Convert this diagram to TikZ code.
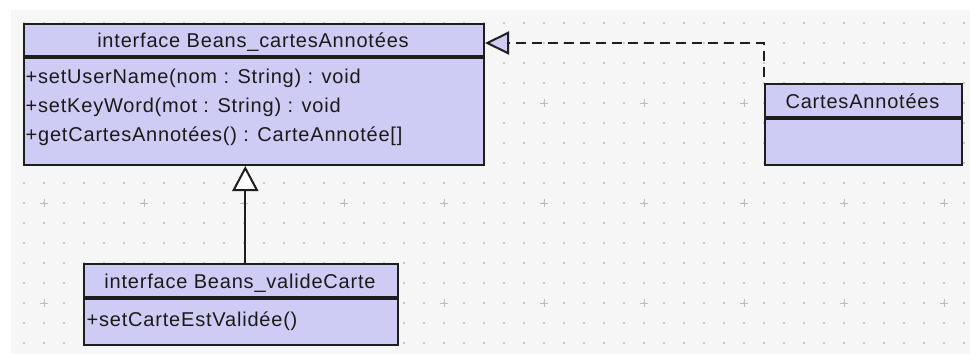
\documentclass[tikz,border=0pt]{standalone}
\usepackage{fontspec}
\setmainfont{Liberation Sans}[LetterSpace=4]
\usetikzlibrary{arrows.meta}

\definecolor{canvas}{HTML}{F6F6F6}
\definecolor{classfill}{RGB}{206,204,244}
\definecolor{edge}{HTML}{1E1E1E}
\definecolor{griddot}{HTML}{CACACA}
\definecolor{gridcross}{HTML}{BDBDBD}
\definecolor{ink}{HTML}{1A1A1A}

\newcommand{\umlfont}{\fontsize{20pt}{24pt}\selectfont}

\tikzset{
  classpart/.style={draw=edge, fill=classfill, line width=2pt, inner sep=0pt,
    anchor=north west},
  umltext/.style={font=\umlfont, text=ink, inner sep=0pt},
  generalization/.style={draw=edge, line width=2pt,
    -{Triangle[length=25pt, width=26pt, fill=white]}},
  realization/.style={draw=edge, line width=2pt,
    dash pattern=on 10pt off 6pt, dash phase=10pt,
    -{Triangle[length=24pt, width=23pt, fill=classfill]}},
}

\begin{document}
\begin{tikzpicture}[x=1pt, y=-1pt]
  \useasboundingbox (0,0) rectangle (970,356);

  % drawing canvas with its dotted grid
  \fill[canvas] (11,10) rectangle (970,354);
  \foreach \i in {0,...,47}
    \foreach \j in {0,...,16}
      \fill[griddot] (24+20*\i-0.6, 23+20*\j-0.6) rectangle ++(1.2,1.2);
  \foreach \i in {0,...,9}
    \foreach \j in {1,2,3}
      \draw[gridcross, line width=1pt]
        (44+100*\i-4, 3+100*\j) -- ++(8,0)
        (44+100*\i, 3+100*\j-4) -- ++(0,8);

  % interface Beans_cartesAnnotées
  \node[classpart, minimum width=460pt, minimum height=32pt] (h1) at (23,23) {};
  \node[classpart, minimum width=460pt, minimum height=107pt] (m1) at (h1.south west) {};
  \node[umltext, anchor=base] (t1) at (253,47) {interface Beans\_cartesAnnotées};
  \node[umltext, anchor=base west] (op1) at (25.5,83.5) {+setUserName(nom : String) : void};
  \node[umltext, anchor=base west] (op2) at (25.5,112.5) {+setKeyWord(mot : String) : void};
  \node[umltext, anchor=base west] (op3) at (25.5,141.5) {+getCartesAnnotées() : CarteAnnotée[]};

  % class CartesAnnotées
  \node[classpart, minimum width=197pt, minimum height=33pt] (h2) at (764,83) {};
  \node[classpart, minimum width=197pt, minimum height=46pt] (m2) at (h2.south west) {};
  \node[umltext, anchor=base] (t2) at (862.5,108) {CartesAnnotées};

  % interface Beans_valideCarte
  \node[classpart, minimum width=314pt, minimum height=33pt] (h3) at (83,263) {};
  \node[classpart, minimum width=314pt, minimum height=46pt] (m3) at (h3.south west) {};
  \node[umltext, anchor=base] (t3) at (240,288) {interface Beans\_valideCarte};
  \node[umltext, anchor=base west] (op4) at (86.5,326) {+setCarteEstValidée()};

  % Beans_valideCarte extends Beans_cartesAnnotées
  \draw[generalization] ([xshift=4.3pt]h3.north) -- ([xshift=4.3pt]h3.north |- m1.south);

  % CartesAnnotées implements Beans_cartesAnnotées
  \coordinate (bend) at (764,43);
  \draw[realization] (h2.north west) -- (bend) -- (h1.east |- bend);
\end{tikzpicture}
\end{document}
